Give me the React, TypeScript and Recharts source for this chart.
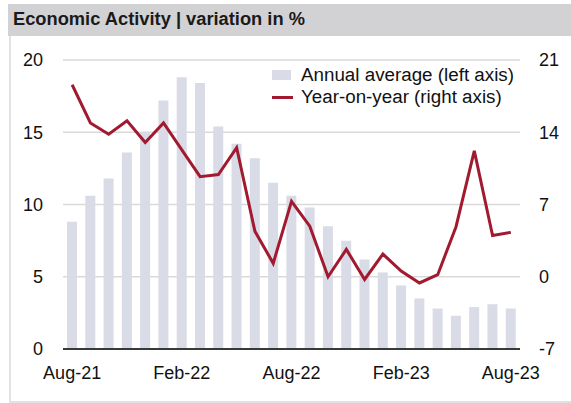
import React from "react";
import {
  ComposedChart,
  Bar,
  Line,
  XAxis,
  YAxis,
  CartesianGrid,
} from "recharts";

const months = [
  "Aug-21", "Sep-21", "Oct-21", "Nov-21", "Dec-21",
  "Jan-22", "Feb-22", "Mar-22", "Apr-22", "May-22", "Jun-22", "Jul-22",
  "Aug-22", "Sep-22", "Oct-22", "Nov-22", "Dec-22",
  "Jan-23", "Feb-23", "Mar-23", "Apr-23", "May-23", "Jun-23", "Jul-23", "Aug-23",
];

const annualAverage = [
  8.8, 10.6, 11.8, 13.6, 15.0, 17.2, 18.8, 18.4, 15.4, 14.2, 13.2, 11.5,
  10.6, 9.8, 8.5, 7.5, 6.2, 5.3, 4.4, 3.5, 2.8, 2.3, 2.9, 3.1, 2.8,
];

const yearOnYear = [
  18.6, 14.9, 13.8, 15.1, 13.0, 14.9, 12.3, 9.7, 9.9, 12.5, 4.4, 1.3,
  7.3, 4.9, 0.0, 2.65, -0.26, 2.2, 0.55, -0.6, 0.2, 4.85, 12.2, 4.0, 4.3,
];

const leftTicks = [0, 5, 10, 15, 20];
const rightTicks = [-7, 0, 7, 14, 21];

const seriesNames = ["Annual average (left axis)", "Year-on-year (right axis)"];

const data = months.map((m, i) => ({
  month: m,
  avg: annualAverage[i],
  yoy: yearOnYear[i],
}));

const FONT = "'Liberation Sans', Arial, sans-serif";
const BAR_COLOR = "#d9dbe6";
const LINE_COLOR = "#a11a30";

export default function App() {
  return (
    <div style={{ position: "absolute", left: 0, top: 0, width: 571, height: 403, background: "#fff", fontFamily: FONT }}>
      <div
        style={{
          position: "absolute",
          left: 9,
          top: 36,
          width: 600,
          height: 365,
          borderLeft: "2px solid #e2e2e2",
          borderBottom: "2px solid #e2e2e2",
        }}
      />
      <div
        style={{
          position: "absolute",
          left: 8,
          top: 4,
          width: 563,
          height: 32,
          background: "#d2d2d5",
        }}
      />
      <div
        style={{
          position: "absolute",
          left: 13,
          top: 8,
          fontSize: 18.3,
          fontWeight: "bold",
          color: "#1a1a1a",
          lineHeight: "22px",
          whiteSpace: "nowrap",
        }}
      >
        Economic Activity | variation in %
      </div>
      <div style={{ position: "absolute", left: 0, top: 0 }}>
        <ComposedChart
          width={571}
          height={403}
          data={data}
          margin={{ top: 60, right: 0, bottom: 24, left: 0 }}
          barCategoryGap="22%"
        >
          <CartesianGrid yAxisId="left" vertical={false} stroke="#d9d9d9" strokeWidth={1.5} />
          <XAxis
            dataKey="month"
            interval={5}
            height={30}
            tickLine={false}
            tickSize={0}
            tickMargin={17}
            axisLine={{ stroke: "#000", strokeWidth: 1.5 }}
            tick={{ fill: "#111", fontSize: 18, fontFamily: FONT }}
          />
          <YAxis
            yAxisId="left"
            orientation="left"
            width={63}
            domain={[0, 20]}
            ticks={leftTicks}
            axisLine={false}
            tickLine={false}
            tickSize={0}
            tickMargin={20}
            tick={{ fill: "#111", fontSize: 18, fontFamily: FONT }}
          />
          <YAxis
            yAxisId="right"
            orientation="right"
            width={51}
            domain={[-7, 21]}
            ticks={rightTicks}
            axisLine={false}
            tickLine={false}
            tickSize={0}
            tickMargin={19}
            tick={{ fill: "#111", fontSize: 18, fontFamily: FONT }}
          />
          <Bar yAxisId="left" dataKey="avg" name={seriesNames[0]} fill={BAR_COLOR} isAnimationActive={false} />
          <Line
            yAxisId="right"
            dataKey="yoy"
            name={seriesNames[1]}
            stroke={LINE_COLOR}
            strokeWidth={3}
            dot={false}
            activeDot={false}
            type="linear"
            isAnimationActive={false}
          />
        </ComposedChart>
      </div>
      <div
        style={{
          position: "absolute",
          left: 272,
          top: 64,
          fontSize: 18.8,
          color: "#111",
          lineHeight: "22px",
          whiteSpace: "nowrap",
        }}
      >
        <div style={{ display: "flex", alignItems: "center", height: 22 }}>
          <span style={{ display: "inline-block", width: 19, height: 10, background: BAR_COLOR, marginRight: 10 }} />
          <span>{seriesNames[0]}</span>
        </div>
        <div style={{ display: "flex", alignItems: "center", height: 22 }}>
          <span style={{ display: "inline-block", width: 21, height: 3, background: LINE_COLOR, marginRight: 8 }} />
          <span>{seriesNames[1]}</span>
        </div>
      </div>
    </div>
  );
}
